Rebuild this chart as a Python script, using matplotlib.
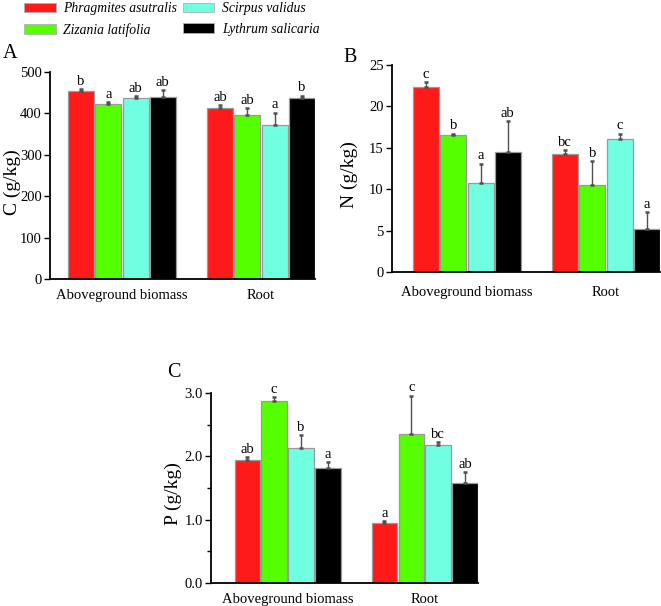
import matplotlib
matplotlib.use('Agg')
import matplotlib.pyplot as plt
import numpy as np
from matplotlib.patches import Patch

plt.rcParams['font.family'] = ['Liberation Serif', 'DejaVu Serif']

species = ['Phragmites asutralis', 'Zizania latifolia', 'Scirpus validus', 'Lythrum salicaria']
colors = ['#ff1a1a', '#55ff00', '#70ffe0', '#000000']
groups = ['Aboveground biomass', 'Root']

# values per species: [aboveground, root]
c_mean = [[454, 412], [423, 396], [438, 373], [440, 438]]
c_err = [[4, 8], [5, 16], [4, 29], [17, 5]]
c_sig = [['b', 'ab'], ['a', 'ab'], ['ab', 'a'], ['ab', 'b']]

n_mean = [[22.4, 14.2], [16.5, 10.5], [10.8, 16.1], [14.5, 5.2]]
n_err = [[0.5, 0.55], [0.2, 2.9], [2.3, 0.6], [3.7, 2.05]]
n_sig = [['c', 'bc'], ['b', 'b'], ['a', 'c'], ['ab', 'a']]

p_mean = [[1.95, 0.94], [2.87, 2.36], [2.13, 2.18], [1.82, 1.58]]
p_err = [[0.04, 0.04], [0.07, 0.60], [0.20, 0.05], [0.09, 0.17]]
p_sig = [['ab', 'a'], ['c', 'c'], ['b', 'bc'], ['a', 'ab']]

W, H = 661, 606
fig = plt.figure(figsize=(W / 100, H / 100), dpi=100)


def px_axes(left, top, right, bottom):
    return fig.add_axes([left / W, 1 - bottom / H, (right - left) / W, (bottom - top) / H])


def draw_panel(ax, means, errs, sigs, ymax, yticks, ylabel, xleft, labx, minor=None, fmt='%d'):
    group_off = 5.1
    for i in range(4):
        xs = np.array([i, i + group_off])
        m = np.array(means[i])
        e = np.array(errs[i])
        ax.bar(xs, m, width=0.95, color=colors[i], edgecolor='#9a9a9a', linewidth=0.9, zorder=2)
        ax.errorbar(xs, m, yerr=[np.zeros(2), e], fmt='none', ecolor='#505050', elinewidth=1,
                    capsize=1.6, capthick=1.8, zorder=3)
        for x, top, s in zip(xs, m + e, sigs[i]):
            ax.text(x, top + ymax * 0.006, s, ha='center', va='bottom', fontsize=10.5)
    ax.set_xlim(xleft, 3 + group_off + 0.48)
    ax.set_ylim(0, ymax)
    ax.set_yticks(yticks)
    ax.set_yticklabels([fmt % t for t in yticks])
    if minor is not None:
        ax.set_yticks(minor, minor=True)
    ax.set_xticks([1.5, 1.5 + group_off])
    ax.set_xticklabels(groups, fontsize=10.5)
    ax.tick_params(axis='x', length=0, pad=7)
    ax.tick_params(axis='y', direction='out', length=4, width=1, labelsize=10.5, pad=2)
    ax.tick_params(axis='y', which='minor', direction='out', length=3, width=1)
    for sp in ['top', 'right']:
        ax.spines[sp].set_visible(False)
    for sp in ['left', 'bottom']:
        ax.spines[sp].set_linewidth(1.3)
    ax.set_ylabel(ylabel, fontsize=14)
    ax.yaxis.set_label_coords(labx, 0.47)


axA = px_axes(50, 72, 315, 279)
draw_panel(axA, c_mean, c_err, c_sig, 500, [0, 100, 200, 300, 400, 500], 'C (g/kg)', -1.14, -0.108)

axB = px_axes(392, 65, 660, 272)
draw_panel(axB, n_mean, n_err, n_sig, 25, [0, 5, 10, 15, 20, 25], 'N (g/kg)', -1.25, -0.127)
axB.tick_params(axis='x', pad=10)

axC = px_axes(211, 393, 478, 583)
draw_panel(axC, p_mean, p_err, p_sig, 3.0, [0.0, 1.0, 2.0, 3.0], 'P (g/kg)', -1.35, -0.11,
           minor=[0.5, 1.5, 2.5], fmt='%.1f')

fig.text(3 / W, 1 - 58 / H, 'A', fontsize=14.5, va='baseline')
fig.text(343 / W, 1 - 62 / H, 'B', fontsize=14.5, va='baseline')
fig.text(167 / W, 1 - 377 / H, 'C', fontsize=14.5, va='baseline')

handles = [Patch(facecolor=colors[i], edgecolor='#b0b0b0', linewidth=0.6) for i in range(4)]
leg = fig.legend(handles, species, ncol=2, loc='upper left', bbox_to_anchor=(12 / W, 1 + 10 / H),
                 frameon=False, prop={'style': 'italic', 'size': 9.8},
                 handlelength=2.3, handleheight=0.75, handletextpad=0.55, columnspacing=0.45,
                 labelspacing=0.55)

fig.savefig('out.png', dpi=100)
